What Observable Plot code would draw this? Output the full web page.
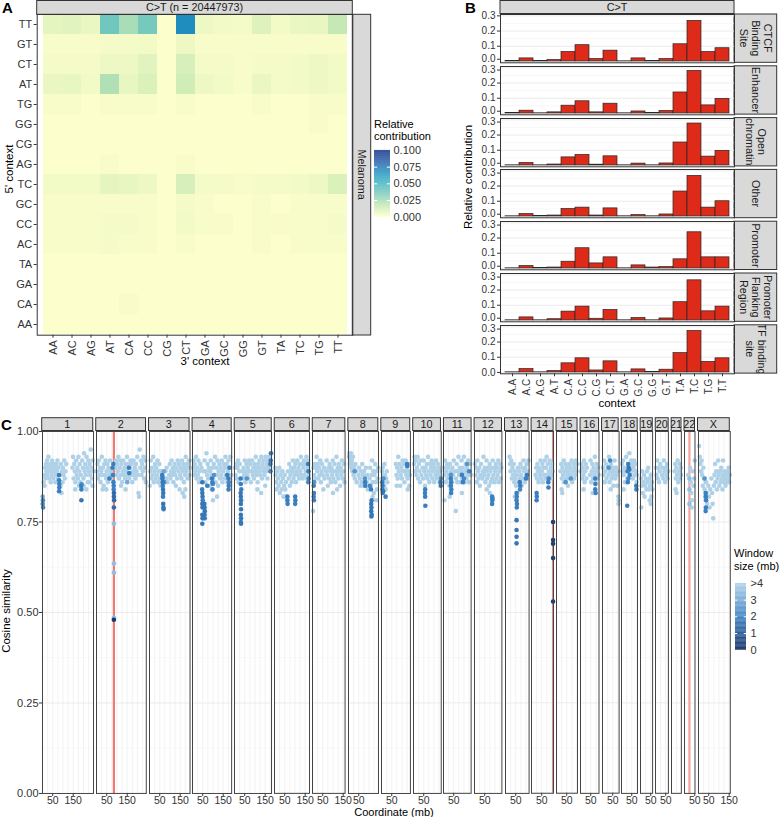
<!DOCTYPE html>
<html><head><meta charset="utf-8">
<script src="https://cdn.jsdelivr.net/npm/d3@7"></script>
<script src="https://cdn.jsdelivr.net/npm/@observablehq/plot@0.6"></script>
<style>
body{margin:0;background:#fff;}
#root{position:relative;width:780px;height:817px;overflow:hidden;font-family:"Liberation Sans",Arial,sans-serif;background:#fff;}
#root svg{position:absolute;overflow:visible;max-width:none;}
</style></head><body><div id="root"></div>
<script>
// ---------------- DATA ----------------
// Panel A: extended-context heatmap (rows = 5' context, cols = 3' context)
const fiveContext = ["TT","GT","CT","AT","TG","GG","CG","AG","TC","GC","CC","AC","TA","GA","CA","AA"];
const threeContext = ["AA","AC","AG","AT","CA","CC","CG","CT","GA","GC","GG","GT","TA","TC","TG","TT"];
const heatTT = [0.008,0.009,0.006,0.038,0.024,0.036,0.001,0.068,0.005,0.004,0.003,0.010,0.004,0.006,0.007,0.017];
const heatGT = [0.002,0.002,0.002,0.003,0.003,0.004,0.001,0.005,0.002,0.002,0.002,0.002,0.002,0.002,0.002,0.002];
const heatCT = [0.003,0.003,0.003,0.005,0.005,0.009,0.001,0.012,0.003,0.003,0.002,0.003,0.003,0.004,0.005,0.004];
const heatAT = [0.006,0.007,0.004,0.022,0.007,0.011,0.001,0.014,0.005,0.004,0.002,0.006,0.003,0.004,0.005,0.004];
const heatTG = [0.002,0.002,0.001,0.002,0.002,0.002,0.001,0.002,0.001,0.001,0.001,0.002,0.001,0.001,0.002,0.002];
const heatGG = [0.001,0.001,0.001,0.001,0.001,0.001,0.001,0.001,0.001,0.001,0.001,0.001,0.001,0.001,0.002,0.001];
const heatCG = [0.001,0.001,0.001,0.001,0.001,0.001,0.001,0.001,0.001,0.001,0.001,0.001,0.001,0.001,0.001,0.001];
const heatAG = [0.001,0.001,0.001,0.002,0.001,0.001,0.001,0.002,0.001,0.001,0.001,0.001,0.001,0.001,0.001,0.001];
const heatTC = [0.004,0.004,0.004,0.008,0.007,0.005,0.001,0.012,0.003,0.003,0.002,0.003,0.003,0.004,0.005,0.011];
const heatGC = [0.002,0.002,0.002,0.002,0.002,0.002,0.001,0.003,0.002,0.001,0.001,0.002,0.001,0.002,0.002,0.002];
const heatCC = [0.002,0.002,0.002,0.003,0.003,0.002,0.001,0.004,0.002,0.002,0.001,0.002,0.002,0.002,0.002,0.003];
const heatAC = [0.002,0.002,0.002,0.003,0.002,0.002,0.001,0.002,0.001,0.001,0.001,0.002,0.001,0.002,0.002,0.002];
const heatTA = [0.001,0.001,0.001,0.001,0.001,0.001,0.001,0.001,0.001,0.001,0.001,0.001,0.001,0.001,0.001,0.001];
const heatGA = [0.001,0.001,0.001,0.001,0.001,0.001,0.001,0.001,0.001,0.001,0.001,0.001,0.001,0.001,0.001,0.001];
const heatCA = [0.001,0.001,0.001,0.001,0.002,0.001,0.001,0.001,0.001,0.001,0.001,0.001,0.001,0.001,0.001,0.001];
const heatAA = [0.001,0.001,0.001,0.001,0.001,0.001,0.001,0.001,0.001,0.001,0.001,0.001,0.001,0.001,0.001,0.001];
const heatRows = [heatTT,heatGT,heatCT,heatAT,heatTG,heatGG,heatCG,heatAG,heatTC,heatGC,heatCC,heatAC,heatTA,heatGA,heatCA,heatAA];
const heatTicks = [0,0.025,0.05,0.075,0.1];

// Panel B: C>T context per region
const regionContexts = ["A.A","A.C","A.G","A.T","C.A","C.C","C.G","C.T","G.A","G.C","G.G","G.T","T.A","T.C","T.G","T.T"];
const regionNames = [["CTCF","Binding","Site"],["Enhancer"],["Open","chromatin"],["Other"],["Promoter"],["Promoter","Flanking","Region"],["TF binding","site"]];
const barCTCF     = [0.002,0.020,0.002,0.009,0.062,0.107,0.016,0.071,0.001,0.020,0.003,0.016,0.113,0.267,0.062,0.087];
const barEnhancer = [0.002,0.018,0.001,0.007,0.051,0.080,0.007,0.064,0.001,0.013,0.002,0.016,0.138,0.280,0.053,0.096];
const barOpen     = [0.001,0.016,0.001,0.006,0.053,0.069,0.005,0.060,0.001,0.012,0.001,0.013,0.151,0.276,0.058,0.096];
const barOther    = [0.001,0.016,0.002,0.006,0.049,0.058,0.006,0.053,0.001,0.009,0.001,0.013,0.164,0.267,0.058,0.100];
const barPromoter = [0.001,0.016,0.002,0.006,0.044,0.133,0.033,0.073,0.001,0.020,0.006,0.009,0.060,0.238,0.073,0.073];
const barFlanking = [0.001,0.020,0.001,0.008,0.058,0.091,0.011,0.069,0.001,0.016,0.001,0.013,0.120,0.264,0.060,0.091];
const barTF       = [0.001,0.022,0.001,0.009,0.060,0.093,0.013,0.073,0.001,0.020,0.002,0.018,0.127,0.273,0.069,0.093];
const barSeries = [barCTCF,barEnhancer,barOpen,barOther,barPromoter,barFlanking,barTF];
const barTicks = [0,0.1,0.2,0.3];

// Panel C: cosine similarity per window, [position (Mb), similarity, window size (mb, 4 = ">4")]
const chromNames = ["1","2","3","4","5","6","7","8","9","10","11","12","13","14","15","16","17","18","19","20","21","22","X"];
const chromLengths = [249.3,243.2,198.0,191.2,180.9,171.1,159.1,146.4,141.2,135.5,135.0,133.9,115.2,107.3,102.5,90.4,81.2,78.1,59.1,63.0,48.1,51.3,155.3];
const coordTicks = [50,150];
const simTicks = [0,0.25,0.5,0.75,1];
const windowTicks = [0,1,2,3,4];
const windowLabels = ["0","1","2","3",">4"];
const redLineChrom = ["2","14","22"];
const redLinePos = [85,105.5,24];

const chr1Pts = [[1,0.80,2.2],[2,0.81,2.2],[3,0.79,2.2],[1,0.82,3],[5,0.86,4],[8,0.88,4],[10,0.85,4],[12,0.90,4],[14,0.87,4],[17,0.91,4],[19,0.89,4],[22,0.92,4],[24,0.88,4],[27,0.90,4],[29,0.93,4],[32,0.87,4],[34,0.89,4],[37,0.91,4],[40,0.86,4],[42,0.90,4],[45,0.88,4],[47,0.92,4],[50,0.89,4],[53,0.87,4],[55,0.91,4],[58,0.89,4],[60,0.90,4],[63,0.86,4],[65,0.88,4],[68,0.91,4],[70,0.89,4],[73,0.92,4],[75,0.87,4],[78,0.90,4],[85,0.88,4],[88,0.85,4],[90,0.91,4],[93,0.83,4],[95,0.89,4],[98,0.86,4],[100,0.90,4],[103,0.88,4],[106,0.92,4],[109,0.87,4],[112,0.89,4],[116,0.91,4],[81,0.88,2],[81,0.865,2],[82,0.855,2],[82,0.845,2],[81,0.835,2],[146,0.90,4],[149,0.93,4],[152,0.87,4],[155,0.91,4],[158,0.89,4],[161,0.86,4],[164,0.92,4],[167,0.88,4],[170,0.90,4],[173,0.87,4],[176,0.93,4],[179,0.89,4],[182,0.91,4],[185,0.86,4],[188,0.88,4],[194,0.92,4],[197,0.90,4],[200,0.87,4],[203,0.94,4],[206,0.89,4],[209,0.91,4],[212,0.88,4],[215,0.93,4],[218,0.90,4],[221,0.86,4],[224,0.92,4],[227,0.89,4],[230,0.91,4],[233,0.88,4],[236,0.95,4],[239,0.90,4],[242,0.87,4],[245,0.92,4],[248,0.89,4],[160,0.84,4],[178,0.85,4],[201,0.85,4],[214,0.84,4],[229,0.86,4],[244,0.85,4],[189,0.85,2],[190,0.84,2],[191,0.855,2.5],[190,0.81,1.8]];
const chr2Pts = [[2,0.89,4],[5,0.91,4],[8,0.87,4],[11,0.92,4],[14,0.88,4],[17,0.90,4],[20,0.86,4],[23,0.89,4],[26,0.93,4],[29,0.88,4],[32,0.90,4],[35,0.85,4],[38,0.91,4],[41,0.88,4],[44,0.92,4],[47,0.87,4],[50,0.89,4],[53,0.91,4],[56,0.86,4],[59,0.90,4],[62,0.88,4],[66,0.92,4],[69,0.89,4],[72,0.87,4],[92,0.90,4],[95,0.92,4],[98,0.88,4],[101,0.91,4],[104,0.89,4],[107,0.93,4],[110,0.87,4],[113,0.90,4],[116,0.92,4],[119,0.88,4],[122,0.91,4],[125,0.86,4],[128,0.89,4],[131,0.92,4],[134,0.88,4],[137,0.90,4],[140,0.87,4],[143,0.91,4],[146,0.89,4],[149,0.93,4],[152,0.88,4],[155,0.91,4],[160,0.87,4],[163,0.90,4],[166,0.92,4],[169,0.88,4],[172,0.91,4],[175,0.86,4],[178,0.89,4],[181,0.92,4],[184,0.88,4],[187,0.90,4],[190,0.87,4],[193,0.91,4],[196,0.89,4],[199,0.93,4],[202,0.88,4],[205,0.83,4],[208,0.82,4],[211,0.95,4],[214,0.90,4],[217,0.92,4],[220,0.88,4],[223,0.91,4],[226,0.89,4],[229,0.93,4],[232,0.87,4],[235,0.90,4],[238,0.92,4],[241,0.86,4],[30,0.84,4],[48,0.84,4],[120,0.85,4],[142,0.84,4],[63,0.87,2],[78,0.90,2],[80,0.88,2],[82,0.91,2],[83,0.86,2],[84,0.84,2],[85,0.83,1.5],[85,0.82,1.5],[86,0.81,1.5],[85,0.79,1.5],[84,0.85,2],[158,0.90,2],[160,0.885,2],[150,0.86,3],[85,0.745,3.5],[85,0.635,3.5],[85,0.61,3.5],[85,0.485,3.5],[85,0.48,0.3]];
const chr3Pts = [[1,0.85,4],[3,0.89,4],[6,0.92,4],[9,0.87,4],[12,0.90,4],[15,0.88,4],[18,0.93,4],[21,0.86,4],[24,0.89,4],[27,0.91,4],[30,0.87,4],[33,0.90,4],[36,0.88,4],[39,0.92,4],[42,0.86,4],[45,0.89,4],[48,0.91,4],[51,0.87,4],[54,0.85,4],[57,0.89,4],[60,0.88,4],[78,0.89,4],[81,0.87,4],[84,0.90,4],[87,0.86,4],[96,0.88,4],[99,0.91,4],[102,0.87,4],[105,0.89,4],[108,0.92,4],[111,0.88,4],[114,0.90,4],[117,0.86,4],[120,0.89,4],[123,0.91,4],[126,0.88,4],[129,0.85,4],[132,0.90,4],[135,0.87,4],[138,0.92,4],[141,0.89,4],[144,0.91,4],[147,0.84,4],[150,0.88,4],[153,0.90,4],[156,0.87,4],[159,0.92,4],[162,0.89,4],[165,0.91,4],[168,0.86,4],[171,0.90,4],[174,0.88,4],[177,0.93,4],[180,0.89,4],[183,0.91,4],[186,0.87,4],[189,0.90,4],[192,0.92,4],[195,0.88,4],[162,0.83,4],[170,0.82,4],[175,0.84,4],[62,0.88,2],[63,0.87,2],[64,0.86,1.8],[65,0.85,2],[66,0.84,1.8],[67,0.83,1.8],[66,0.82,2],[67,0.80,1.8],[68,0.79,1.8],[69,0.785,2],[64,0.875,2.5],[70,0.89,3],[72,0.86,2.5]];
const chr4Pts = [[2,0.90,4],[5,0.92,4],[8,0.88,4],[11,0.91,4],[14,0.89,4],[17,0.93,4],[20,0.87,4],[23,0.90,4],[26,0.88,4],[29,0.92,4],[32,0.86,4],[35,0.89,4],[38,0.91,4],[41,0.87,4],[44,0.90,4],[56,0.89,4],[59,0.92,4],[62,0.86,4],[65,0.89,4],[68,0.94,4],[71,0.88,4],[74,0.91,4],[77,0.87,4],[80,0.90,4],[83,0.85,4],[86,0.89,4],[89,0.92,4],[92,0.88,4],[95,0.84,4],[98,0.90,4],[101,0.87,4],[104,0.91,4],[107,0.88,4],[110,0.93,4],[113,0.86,4],[116,0.90,4],[119,0.88,4],[122,0.92,4],[125,0.85,4],[128,0.89,4],[131,0.91,4],[134,0.87,4],[137,0.90,4],[140,0.88,4],[143,0.92,4],[146,0.86,4],[149,0.89,4],[152,0.91,4],[155,0.87,4],[158,0.90,4],[161,0.93,4],[164,0.88,4],[167,0.91,4],[170,0.86,4],[173,0.89,4],[176,0.92,4],[179,0.87,4],[182,0.90,4],[185,0.93,4],[188,0.88,4],[100,0.81,4],[120,0.82,4],[48,0.86,1.8],[48,0.83,1.8],[49,0.82,1.8],[48,0.80,1.8],[49,0.79,1.8],[48,0.77,1.8],[49,0.76,1.8],[48,0.745,1.8],[47,0.84,2],[50,0.81,2],[58,0.80,1.8],[59,0.79,1.8],[60,0.78,1.8],[59,0.77,1.8],[60,0.76,2],[72,0.85,2],[95,0.87,2],[97,0.86,2],[99,0.855,2.2],[98,0.84,2.2],[105,0.88,2.5],[170,0.88,2],[175,0.87,2],[176,0.84,2],[177,0.85,2],[180,0.90,2],[178,0.86,2.2]];
const chr5Pts = [[2,0.90,4],[5,0.88,4],[8,0.91,4],[11,0.87,4],[14,0.90,4],[17,0.92,4],[20,0.86,4],[23,0.89,4],[26,0.91,4],[38,0.89,4],[41,0.87,4],[44,0.90,4],[47,0.88,4],[50,0.92,4],[53,0.86,4],[56,0.89,4],[59,0.91,4],[62,0.88,4],[65,0.90,4],[68,0.87,4],[71,0.92,4],[74,0.89,4],[77,0.91,4],[80,0.86,4],[83,0.89,4],[86,0.92,4],[89,0.88,4],[92,0.90,4],[95,0.87,4],[98,0.91,4],[101,0.89,4],[104,0.93,4],[107,0.88,4],[110,0.90,4],[113,0.86,4],[116,0.91,4],[119,0.89,4],[122,0.92,4],[125,0.88,4],[128,0.90,4],[131,0.93,4],[134,0.87,4],[137,0.91,4],[140,0.89,4],[143,0.92,4],[146,0.88,4],[149,0.90,4],[152,0.93,4],[155,0.89,4],[158,0.91,4],[161,0.87,4],[164,0.92,4],[167,0.90,4],[170,0.93,4],[173,0.89,4],[176,0.91,4],[179,0.94,4],[112,0.84,4],[150,0.85,4],[130,0.83,4],[30,0.87,2],[31,0.855,2],[30,0.83,1.8],[31,0.82,1.8],[32,0.81,1.8],[31,0.80,1.8],[32,0.785,1.8],[31,0.77,1.8],[32,0.76,1.8],[31,0.75,1.8],[32,0.745,1.8],[33,0.84,2],[60,0.87,2.5],[175,0.91,2],[177,0.92,2],[176,0.89,2.2],[178,0.94,2]];
const chr6Pts = [[2,0.90,4],[5,0.88,4],[8,0.86,4],[11,0.84,4],[14,0.89,4],[17,0.87,4],[20,0.85,4],[23,0.90,4],[26,0.83,4],[29,0.88,4],[32,0.86,4],[35,0.84,4],[38,0.89,4],[41,0.87,4],[44,0.82,4],[47,0.85,4],[50,0.88,4],[53,0.84,4],[56,0.86,4],[66,0.89,4],[69,0.87,4],[72,0.91,4],[75,0.85,4],[78,0.88,4],[81,0.90,4],[84,0.86,4],[87,0.89,4],[90,0.92,4],[93,0.87,4],[96,0.90,4],[99,0.88,4],[102,0.91,4],[105,0.86,4],[108,0.89,4],[111,0.92,4],[114,0.88,4],[117,0.90,4],[120,0.87,4],[123,0.91,4],[126,0.89,4],[129,0.93,4],[132,0.88,4],[135,0.91,4],[138,0.87,4],[141,0.90,4],[144,0.92,4],[147,0.88,4],[150,0.91,4],[153,0.89,4],[156,0.93,4],[159,0.87,4],[162,0.90,4],[165,0.92,4],[168,0.88,4],[55,0.82,4],[63,0.82,2],[63,0.81,2],[64,0.80,2],[101,0.82,2],[102,0.81,2],[101,0.80,2],[164,0.91,2],[166,0.89,2],[165,0.86,2.2],[167,0.87,2.2]];
const chr7Pts = [[3,0.78,4],[5,0.90,4],[8,0.88,4],[11,0.91,4],[14,0.87,4],[17,0.90,4],[20,0.93,4],[23,0.89,4],[26,0.91,4],[29,0.87,4],[32,0.90,4],[35,0.88,4],[38,0.92,4],[41,0.86,4],[44,0.89,4],[47,0.91,4],[50,0.88,4],[53,0.84,4],[56,0.90,4],[59,0.87,4],[66,0.89,4],[69,0.92,4],[72,0.88,4],[75,0.85,4],[78,0.90,4],[81,0.87,4],[84,0.91,4],[87,0.89,4],[90,0.86,4],[93,0.90,4],[96,0.88,4],[99,0.92,4],[102,0.87,4],[105,0.89,4],[108,0.91,4],[111,0.86,4],[114,0.89,4],[117,0.93,4],[120,0.88,4],[123,0.90,4],[126,0.87,4],[129,0.91,4],[132,0.89,4],[135,0.85,4],[138,0.90,4],[141,0.88,4],[144,0.92,4],[147,0.87,4],[150,0.89,4],[153,0.91,4],[156,0.86,4],[100,0.83,4],[120,0.84,4],[6,0.85,2],[7,0.83,2],[6,0.82,2],[7,0.81,2],[8,0.86,2.5]];
const chr8Pts = [[2,0.93,4],[4,0.94,4],[6,0.91,4],[8,0.93,4],[10,0.92,4],[12,0.94,4],[14,0.90,4],[16,0.92,4],[18,0.89,4],[20,0.91,4],[22,0.93,4],[25,0.88,4],[28,0.90,4],[31,0.87,4],[34,0.91,4],[37,0.89,4],[40,0.86,4],[49,0.88,4],[52,0.90,4],[55,0.87,4],[58,0.85,4],[61,0.89,4],[64,0.86,4],[67,0.91,4],[70,0.88,4],[73,0.85,4],[76,0.89,4],[79,0.87,4],[85,0.90,4],[88,0.86,4],[91,0.88,4],[94,0.84,4],[103,0.87,4],[106,0.90,4],[109,0.85,4],[112,0.88,4],[115,0.92,4],[118,0.86,4],[121,0.89,4],[124,0.83,4],[127,0.88,4],[130,0.91,4],[133,0.86,4],[136,0.89,4],[139,0.84,4],[142,0.87,4],[145,0.90,4],[118,0.82,4],[135,0.81,4],[30,0.89,2.5],[81,0.86,2],[82,0.85,2],[80,0.87,2.5],[111,0.80,1.8],[112,0.79,1.8],[111,0.78,1.8],[113,0.77,1.8],[112,0.765,1.8],[113,0.81,1.8],[110,0.84,2],[104,0.85,2.2]];
const chr9Pts = [[2,0.89,4],[4,0.87,4],[6,0.90,4],[8,0.86,4],[10,0.88,4],[12,0.85,4],[14,0.91,4],[17,0.88,4],[20,0.84,4],[23,0.87,4],[26,0.89,4],[29,0.86,4],[70,0.91,4],[73,0.88,4],[76,0.90,4],[79,0.87,4],[82,0.93,4],[85,0.89,4],[88,0.91,4],[91,0.85,4],[94,0.88,4],[97,0.90,4],[100,0.87,4],[103,0.92,4],[106,0.89,4],[109,0.91,4],[112,0.86,4],[115,0.89,4],[118,0.92,4],[121,0.88,4],[124,0.90,4],[127,0.87,4],[130,0.91,4],[133,0.89,4],[136,0.85,4],[139,0.88,4],[74,0.85,4],[128,0.84,4],[3,0.86,2],[5,0.85,2],[4,0.84,2],[6,0.83,2],[8,0.835,1.8],[10,0.87,2.5],[20,0.82,2],[125,0.91,2],[126,0.905,2]];
const chr10Pts = [[2,0.91,4],[5,0.93,4],[8,0.89,4],[11,0.92,4],[14,0.88,4],[17,0.90,4],[20,0.93,4],[23,0.87,4],[26,0.91,4],[29,0.89,4],[32,0.86,4],[35,0.92,4],[38,0.88,4],[44,0.90,4],[47,0.87,4],[50,0.92,4],[53,0.89,4],[56,0.85,4],[59,0.90,4],[62,0.88,4],[65,0.91,4],[68,0.87,4],[71,0.93,4],[74,0.89,4],[77,0.86,4],[80,0.91,4],[83,0.88,4],[86,0.90,4],[89,0.92,4],[92,0.87,4],[95,0.89,4],[98,0.91,4],[101,0.86,4],[104,0.90,4],[107,0.88,4],[110,0.92,4],[113,0.87,4],[116,0.89,4],[119,0.91,4],[122,0.88,4],[125,0.90,4],[128,0.86,4],[131,0.89,4],[134,0.87,4],[57,0.84,2],[56,0.83,2],[57,0.82,2],[58,0.795,2],[132,0.86,2],[133,0.85,2],[134,0.87,2.5]];
const chr11Pts = [[2,0.90,4],[5,0.88,4],[8,0.92,4],[11,0.86,4],[14,0.89,4],[17,0.91,4],[20,0.87,4],[23,0.90,4],[26,0.88,4],[29,0.85,4],[32,0.91,4],[35,0.87,4],[38,0.89,4],[41,0.86,4],[44,0.90,4],[47,0.88,4],[50,0.92,4],[58,0.89,4],[61,0.87,4],[64,0.91,4],[67,0.86,4],[70,0.89,4],[73,0.93,4],[76,0.88,4],[79,0.90,4],[82,0.86,4],[85,0.89,4],[88,0.92,4],[91,0.87,4],[94,0.90,4],[97,0.88,4],[100,0.93,4],[103,0.86,4],[106,0.89,4],[109,0.91,4],[112,0.87,4],[115,0.90,4],[118,0.88,4],[121,0.92,4],[124,0.86,4],[127,0.89,4],[130,0.91,4],[133,0.88,4],[5,0.81,4],[30,0.82,4],[60,0.78,4],[90,0.83,4],[36,0.87,2],[37,0.86,2],[36,0.85,2],[38,0.84,2],[37,0.83,2],[36,0.88,2.5],[90,0.88,2],[95,0.86,2],[100,0.87,2.2],[115,0.91,2.5],[125,0.89,2.2]];
const chr12Pts = [[2,0.91,4],[5,0.88,4],[8,0.90,4],[11,0.86,4],[14,0.92,4],[17,0.89,4],[20,0.87,4],[23,0.90,4],[26,0.85,4],[29,0.88,4],[32,0.91,4],[38,0.87,4],[41,0.89,4],[44,0.93,4],[47,0.88,4],[50,0.90,4],[53,0.86,4],[56,0.89,4],[59,0.92,4],[62,0.87,4],[65,0.90,4],[68,0.88,4],[71,0.85,4],[74,0.91,4],[77,0.89,4],[80,0.86,4],[83,0.90,4],[86,0.87,4],[89,0.92,4],[92,0.88,4],[95,0.90,4],[98,0.86,4],[101,0.89,4],[104,0.91,4],[107,0.87,4],[110,0.90,4],[113,0.88,4],[116,0.92,4],[119,0.86,4],[122,0.89,4],[125,0.91,4],[128,0.87,4],[131,0.90,4],[60,0.84,4],[75,0.83,4],[86,0.82,2],[87,0.81,2],[86,0.80,2],[88,0.815,2.2]];
const chr13Pts = [[20,0.93,4],[22,0.91,4],[25,0.89,4],[28,0.92,4],[31,0.87,4],[34,0.90,4],[37,0.88,4],[40,0.91,4],[43,0.86,4],[46,0.89,4],[49,0.87,4],[52,0.85,4],[55,0.88,4],[58,0.83,4],[61,0.90,4],[64,0.86,4],[67,0.89,4],[70,0.87,4],[73,0.91,4],[76,0.88,4],[79,0.85,4],[82,0.90,4],[85,0.87,4],[88,0.92,4],[91,0.89,4],[94,0.86,4],[97,0.90,4],[100,0.88,4],[103,0.91,4],[106,0.87,4],[109,0.89,4],[112,0.92,4],[45,0.82,4],[54,0.83,2],[55,0.82,2],[54,0.81,2],[56,0.80,2],[55,0.79,2],[54,0.755,1.8],[54,0.728,1.8],[54,0.709,1.8],[54,0.691,1.8],[70,0.86,2],[72,0.85,2],[71,0.84,2.2],[100,0.87,2],[105,0.88,2]];
const chr14Pts = [[20,0.88,4],[23,0.90,4],[26,0.87,4],[29,0.91,4],[32,0.89,4],[35,0.86,4],[38,0.90,4],[41,0.88,4],[44,0.92,4],[47,0.87,4],[50,0.89,4],[53,0.91,4],[56,0.86,4],[59,0.90,4],[62,0.88,4],[65,0.92,4],[68,0.87,4],[71,0.90,4],[74,0.93,4],[77,0.88,4],[80,0.91,4],[83,0.86,4],[86,0.89,4],[89,0.92,4],[92,0.88,4],[95,0.90,4],[98,0.87,4],[101,0.91,4],[104,0.89,4],[25,0.83,2],[26,0.82,2],[25,0.81,2],[82,0.86,2],[83,0.845,2],[84,0.87,2.2],[105.5,0.75,0.5],[105.5,0.70,0.5],[105.5,0.69,0.5],[105.5,0.65,0.5],[105.5,0.53,0.5]];
const chr15Pts = [[20,0.89,4],[23,0.91,4],[26,0.87,4],[29,0.90,4],[32,0.88,4],[35,0.92,4],[38,0.86,4],[41,0.89,4],[44,0.91,4],[47,0.87,4],[50,0.90,4],[53,0.88,4],[56,0.85,4],[59,0.89,4],[62,0.91,4],[65,0.87,4],[68,0.90,4],[71,0.88,4],[74,0.92,4],[77,0.86,4],[80,0.89,4],[83,0.91,4],[86,0.87,4],[89,0.90,4],[92,0.88,4],[95,0.92,4],[98,0.89,4],[101,0.91,4],[25,0.84,4],[28,0.83,4],[45,0.86,2.5],[70,0.87,2.5]];
const chr16Pts = [[2,0.89,4],[5,0.91,4],[8,0.87,4],[11,0.90,4],[14,0.88,4],[17,0.92,4],[20,0.86,4],[23,0.89,4],[26,0.91,4],[29,0.87,4],[32,0.90,4],[46,0.88,4],[49,0.92,4],[52,0.86,4],[55,0.89,4],[58,0.91,4],[61,0.87,4],[64,0.90,4],[67,0.88,4],[70,0.93,4],[73,0.86,4],[76,0.89,4],[79,0.91,4],[82,0.87,4],[85,0.90,4],[88,0.88,4],[60,0.83,4],[15,0.84,4],[72,0.87,2],[73,0.855,2],[72,0.84,2],[74,0.83,2]];
const chr17Pts = [[2,0.90,4],[5,0.88,4],[8,0.92,4],[11,0.86,4],[14,0.89,4],[17,0.91,4],[20,0.87,4],[26,0.90,4],[29,0.88,4],[32,0.93,4],[35,0.86,4],[38,0.89,4],[41,0.91,4],[44,0.87,4],[47,0.90,4],[50,0.88,4],[53,0.85,4],[56,0.89,4],[59,0.92,4],[62,0.87,4],[65,0.90,4],[68,0.88,4],[71,0.85,4],[74,0.89,4],[77,0.82,4],[79,0.81,4],[78,0.80,4],[40,0.84,4],[30,0.90,2.5],[37,0.92,2.2]];
const chr18Pts = [[2,0.91,4],[5,0.89,4],[8,0.92,4],[11,0.88,4],[14,0.90,4],[17,0.86,4],[20,0.89,4],[23,0.93,4],[26,0.90,4],[29,0.87,4],[32,0.91,4],[35,0.89,4],[38,0.94,4],[41,0.90,4],[44,0.88,4],[47,0.92,4],[50,0.89,4],[53,0.91,4],[56,0.87,4],[59,0.90,4],[62,0.92,4],[65,0.88,4],[68,0.91,4],[71,0.89,4],[74,0.86,4],[77,0.88,4],[10,0.84,4],[30,0.89,2],[33,0.91,2],[35,0.90,1.8],[38,0.895,2],[40,0.88,2],[31,0.86,2],[34,0.87,2.2],[28,0.795,2],[72,0.85,2],[73,0.84,2]];
const chr19Pts = [[2,0.87,4],[5,0.85,4],[8,0.89,4],[11,0.83,4],[14,0.86,4],[17,0.88,4],[20,0.82,4],[23,0.85,4],[26,0.87,4],[29,0.84,4],[32,0.89,4],[35,0.86,4],[38,0.90,4],[41,0.84,4],[44,0.87,4],[47,0.85,4],[50,0.88,4],[53,0.82,4],[56,0.86,4],[58,0.84,4],[4,0.79,4],[45,0.81,4],[50,0.80,4]];
const chr20Pts = [[2,0.90,4],[5,0.88,4],[8,0.92,4],[11,0.87,4],[14,0.90,4],[17,0.86,4],[20,0.89,4],[23,0.91,4],[32,0.88,4],[35,0.90,4],[38,0.87,4],[41,0.92,4],[44,0.89,4],[47,0.86,4],[50,0.90,4],[53,0.88,4],[56,0.91,4],[59,0.87,4],[62,0.89,4]];
const chr21Pts = [[15,0.89,4],[18,0.91,4],[21,0.87,4],[24,0.90,4],[27,0.88,4],[30,0.92,4],[33,0.86,4],[36,0.89,4],[39,0.91,4],[42,0.87,4],[45,0.90,4],[47,0.88,4],[20,0.84,4],[25,0.83,4]];
const chr22Pts = [[18,0.88,4],[24,0.87,3.5],[24,0.84,3.5],[24,0.80,3.5],[27,0.90,4],[30,0.86,4],[33,0.83,4],[36,0.81,4],[40,0.89,4],[44,0.85,4],[47,0.87,4],[50,0.92,4],[35,0.79,4]];
const chrXPts = [[3,0.96,4],[6,0.93,4],[9,0.91,4],[12,0.89,4],[15,0.92,4],[18,0.88,4],[21,0.85,4],[24,0.90,4],[27,0.87,4],[30,0.84,4],[33,0.82,4],[36,0.86,4],[39,0.83,4],[42,0.80,4],[48,0.85,4],[51,0.82,4],[54,0.79,4],[57,0.84,4],[63,0.87,4],[66,0.83,4],[69,0.80,4],[72,0.76,4],[75,0.85,4],[78,0.88,4],[81,0.91,4],[84,0.86,4],[87,0.89,4],[90,0.84,4],[93,0.87,4],[96,0.92,4],[99,0.88,4],[102,0.85,4],[105,0.89,4],[108,0.86,4],[111,0.90,4],[114,0.87,4],[117,0.84,4],[120,0.88,4],[123,0.86,4],[126,0.89,4],[129,0.87,4],[132,0.85,4],[135,0.88,4],[138,0.86,4],[141,0.89,4],[144,0.87,4],[147,0.90,4],[150,0.86,4],[153,0.88,4],[120,0.92,4],[35,0.83,2],[36,0.82,2],[37,0.81,2],[36,0.79,2],[35,0.78,2],[30,0.87,2.5]];
const chromPoints = [chr1Pts,chr2Pts,chr3Pts,chr4Pts,chr5Pts,chr6Pts,chr7Pts,chr8Pts,chr9Pts,chr10Pts,chr11Pts,chr12Pts,chr13Pts,chr14Pts,chr15Pts,chr16Pts,chr17Pts,chr18Pts,chr19Pts,chr20Pts,chr21Pts,chr22Pts,chrXPts];

// ---------------- LAYOUT / RENDER ----------------
const root = document.getElementById("root");
const FONT = "Liberation Sans, Arial, sans-serif";
const baseStyle = {fontFamily: FONT, fontSize: "11px", color: "#333", background: "transparent", overflow: "visible"};
function place(el, left, top) { el.style.left = left + "px"; el.style.top = top + "px"; root.appendChild(el); }

// overlay for strips & titles
const ov = d3.create("svg").attr("width", 780).attr("height", 817).style("left", "0px").style("top", "0px")
  .attr("font-family", FONT);
root.appendChild(ov.node());
let clipId = 0;
function strip(x, y, w, h, lines, vertical) {
  const id = "clip" + (clipId++);
  ov.append("clipPath").attr("id", id).append("rect").attr("x", x).attr("y", y).attr("width", w).attr("height", h);
  ov.append("rect").attr("x", x).attr("y", y).attr("width", w).attr("height", h).attr("fill", "#d9d9d9").attr("stroke", "#333").attr("stroke-width", 1);
  const g = ov.append("g").attr("clip-path", `url(#${id})`);
  const t = g.append("g").attr("transform", `translate(${x + w / 2},${y + h / 2})` + (vertical ? " rotate(90)" : ""));
  const lh = 12;
  lines.forEach((s, i) => {
    t.append("text").attr("text-anchor", "middle").attr("dy", "0.35em").attr("y", (i - (lines.length - 1) / 2) * lh)
      .attr("font-size", 10.8).attr("fill", "#1a1a1a").text(s);
  });
}
function label(x, y, s, opts = {}) {
  const t = ov.append("text").attr("x", x).attr("y", y).attr("font-size", opts.size || 11.5).attr("fill", opts.fill || "#000")
    .attr("text-anchor", opts.anchor || "start").attr("font-weight", opts.bold ? "bold" : null).text(s);
  if (opts.rotate) t.attr("transform", `rotate(${opts.rotate},${x},${y})`).attr("dy", "0.35em");
  return t;
}

// ---- Panel A ----
const ylgnbu = ["#ffffcc","#c7e9b4","#7fcdbb","#41b6c4","#1d91c0","#225ea8","#0c2c84"];
const heatColor = {type: "linear", domain: [0,0.1/6,0.2/6,0.3/6,0.4/6,0.5/6,0.1], range: ylgnbu, interpolate: "lab"};
const heatData = [];
fiveContext.forEach((f, i) => threeContext.forEach((t, j) => heatData.push({five: f, three: t, value: heatRows[i][j]})));
const hmL = 36.7, hmT = 14.3, hmW = 315.6, hmH = 320.7;
const heat = Plot.plot({
  width: hmL + hmW, height: hmH + 30, marginLeft: hmL, marginRight: 0, marginTop: 0, marginBottom: 30,
  style: baseStyle,
  x: {domain: threeContext, padding: 0, tickRotate: -90, tickSize: 3, tickPadding: 2, label: null},
  y: {domain: fiveContext, padding: 0, tickSize: 3, tickPadding: 2, label: null},
  color: heatColor,
  marks: [
    Plot.cell(heatData, {x: "three", y: "five", fill: "value", inset: 0}),
    Plot.frame({stroke: "#333"})
  ]
});
place(heat, 0, hmT);
strip(hmL, 0.5, hmW, 13.8, ["C>T (n = 20447973)"], false);
strip(hmL + hmW, hmT, 18.4, hmH, ["Melanoma"], true);
label(2, 13, "A", {size: 15, bold: true});
label(9, 169, "5' context", {rotate: -90, anchor: "middle"});
label(205, 365, "3' context", {anchor: "middle"});
label(374, 127.5, "Relative", {size: 11});
label(374, 139.5, "contribution", {size: 11});
const heatSlices = d3.range(0, 0.1, 0.001);
const heatLegend = Plot.plot({
  width: 16 + 40, height: 66.7, marginLeft: 0, marginRight: 40, marginTop: 0, marginBottom: 0,
  style: baseStyle,
  x: {domain: [0, 1], axis: null},
  y: {domain: [0, 0.1], axis: null},
  color: heatColor,
  marks: [
    Plot.rect(heatSlices, {x1: 0, x2: 1, y1: d => d, y2: d => d + 0.0011, fill: d => d + 0.0005}),
    Plot.ruleY(heatTicks.slice(1, 4), {x1: 0, x2: 0.2, stroke: "white"}),
    Plot.ruleY(heatTicks.slice(1, 4), {x1: 0.8, x2: 1, stroke: "white"}),
    Plot.axisY(heatTicks, {anchor: "right", tickFormat: ".3f", tickSize: 0, tickPadding: 3, label: null})
  ]
});
place(heatLegend, 374, 150);

// ---- Panel B ----
const bLeft = 500, bW = 234, bTop = 14, bH = 48.3, bStep = 51.8;
strip(bLeft, 0.5, bW, 13, ["C>T"], false);
barSeries.forEach((series, i) => {
  const data = regionContexts.map((c, j) => ({context: c, value: series[j]}));
  const last = i === barSeries.length - 1;
  const p = Plot.plot({
    width: 33 + bW, height: bH + (last ? 30 : 0),
    marginLeft: 33, marginRight: 0, marginTop: 0, marginBottom: last ? 30 : 0,
    style: {...baseStyle, fontSize: "10px"},
    x: {domain: regionContexts, padding: 0, axis: last ? "bottom" : null, tickRotate: -90, tickSize: 3, tickPadding: 2, label: null, fontSize: 11},
    y: {domain: [-0.009, 0.309], label: null, axis: null},
    marks: [
      Plot.ruleY([0.05, 0.15, 0.25], {stroke: "#f3f3f3", strokeWidth: 0.6}),
      Plot.ruleY(barTicks, {stroke: "#ebebeb", strokeWidth: 1}),
      Plot.barY(data, {x: "context", y: "value", fill: "#DE2A18", stroke: "#262626", strokeWidth: 0.7, inset: 0}),
      Plot.axisY(barTicks.slice(0, 1), {tickFormat: ".1f", tickSize: 3, tickPadding: 2, dy: last ? 0 : -2.2, label: null}),
      Plot.axisY(barTicks.slice(1, 3), {tickFormat: ".1f", tickSize: 3, tickPadding: 2, label: null}),
      Plot.axisY(barTicks.slice(3), {tickFormat: ".1f", tickSize: 3, tickPadding: 2, dy: i === 0 ? 0 : 2.2, label: null}),
      Plot.frame({stroke: "#333"})
    ]
  });
  place(p, bLeft - 33, bTop + i * bStep);
  strip(bLeft + bW, bTop + i * bStep, 42.7, bH, regionNames[i], true);
});
label(465, 12.5, "B", {size: 15, bold: true});
label(468, 177, "Relative contribution", {rotate: -90, anchor: "middle"});
label(617, 407, "context", {anchor: "middle"});

// ---- Panel C ----
const cLeft = 41.7, cRight = 729.3, cTop = 430.7, cH = 362, cGap = 3;
const pxPerMb = (cRight - cLeft - cGap * (chromNames.length - 1)) / d3.sum(chromLengths);
const winColor = {type: "linear", domain: [0, 2, 4], range: ["#0e2a62", "#3a7fc0", "#aed1e8"]};
let cx = cLeft;
chromNames.forEach((name, i) => {
  const L = chromLengths[i];
  const w = L * pxPerMb;
  const first = i === 0;
  const ml = first ? 42 : 0;
  const pts = chromPoints[i].map(d => ({pos: d[0], sim: d[1], win: d[2]})).sort((a, b) => b.win - a.win);
  const reds = redLinePos.filter((p, k) => redLineChrom[k] === name);
  const grid = d3.range(25, L, 25);
  const marks = [
    Plot.ruleX(grid, {stroke: "#ededed", strokeWidth: 0.7}),
    Plot.ruleY([0.125, 0.375, 0.625, 0.875], {stroke: "#f3f3f3", strokeWidth: 0.6}),
    Plot.ruleY(simTicks, {stroke: "#ebebeb", strokeWidth: 1}),
    Plot.ruleX(reds, {stroke: name === "14" ? "#cc3a30" : (name === "22" ? "#f3a49c" : "#f07a70"), strokeWidth: name === "14" ? 1.2 : 2.2}),
    Plot.dot(pts, {x: "pos", y: "sim", fill: "win", r: 2.3, stroke: null}),
    Plot.axisX(coordTicks.filter(t => t <= L), {tickSize: 3, tickPadding: 0, fontSize: 10.5, label: null}),
    Plot.frame({stroke: "#444"})
  ];
  if (first) marks.push(Plot.axisY(simTicks, {tickFormat: ".2f", tickSize: 3, tickPadding: 1, label: null}));
  const p = Plot.plot({
    width: ml + w, height: cH + 20, marginLeft: ml, marginRight: 0, marginTop: 0, marginBottom: 20,
    style: baseStyle,
    x: {domain: [0, L]},
    y: {domain: [0, 1], axis: first ? undefined : null},
    color: winColor,
    marks
  });
  place(p, cx - ml, cTop);
  strip(cx, 417.7, w, 12.8, [name], false);
  cx += w + cGap;
});
label(1, 430, "C", {size: 15, bold: true});
label(6, 611, "Cosine similarity", {rotate: -90, anchor: "middle"});
label(394, 816.3, "Coordinate (mb)", {anchor: "middle", size: 11});
label(734, 557, "Window", {size: 11});
label(734, 570, "size (mb)", {size: 11});
const winSlices = d3.range(0, 4, 0.05);
const winLegend = Plot.plot({
  width: 11 + 30, height: 66.7, marginLeft: 0, marginRight: 30, marginTop: 0, marginBottom: 0,
  style: baseStyle,
  x: {domain: [0, 1], axis: null},
  y: {domain: [0, 4], axis: null},
  color: winColor,
  marks: [
    Plot.rect(winSlices, {x1: 0, x2: 1, y1: d => d, y2: d => d + 0.055, fill: d => d + 0.025}),
    Plot.ruleY(windowTicks.slice(1, 4), {x1: 0, x2: 0.2, stroke: "white"}),
    Plot.ruleY(windowTicks.slice(1, 4), {x1: 0.8, x2: 1, stroke: "white"}),
    Plot.axisY(windowTicks, {anchor: "right", tickSize: 0, tickPadding: 4, tickFormat: (d) => windowLabels[windowTicks.indexOf(d)], label: null})
  ]
});
place(winLegend, 735, 583.3);
</script></body></html>
